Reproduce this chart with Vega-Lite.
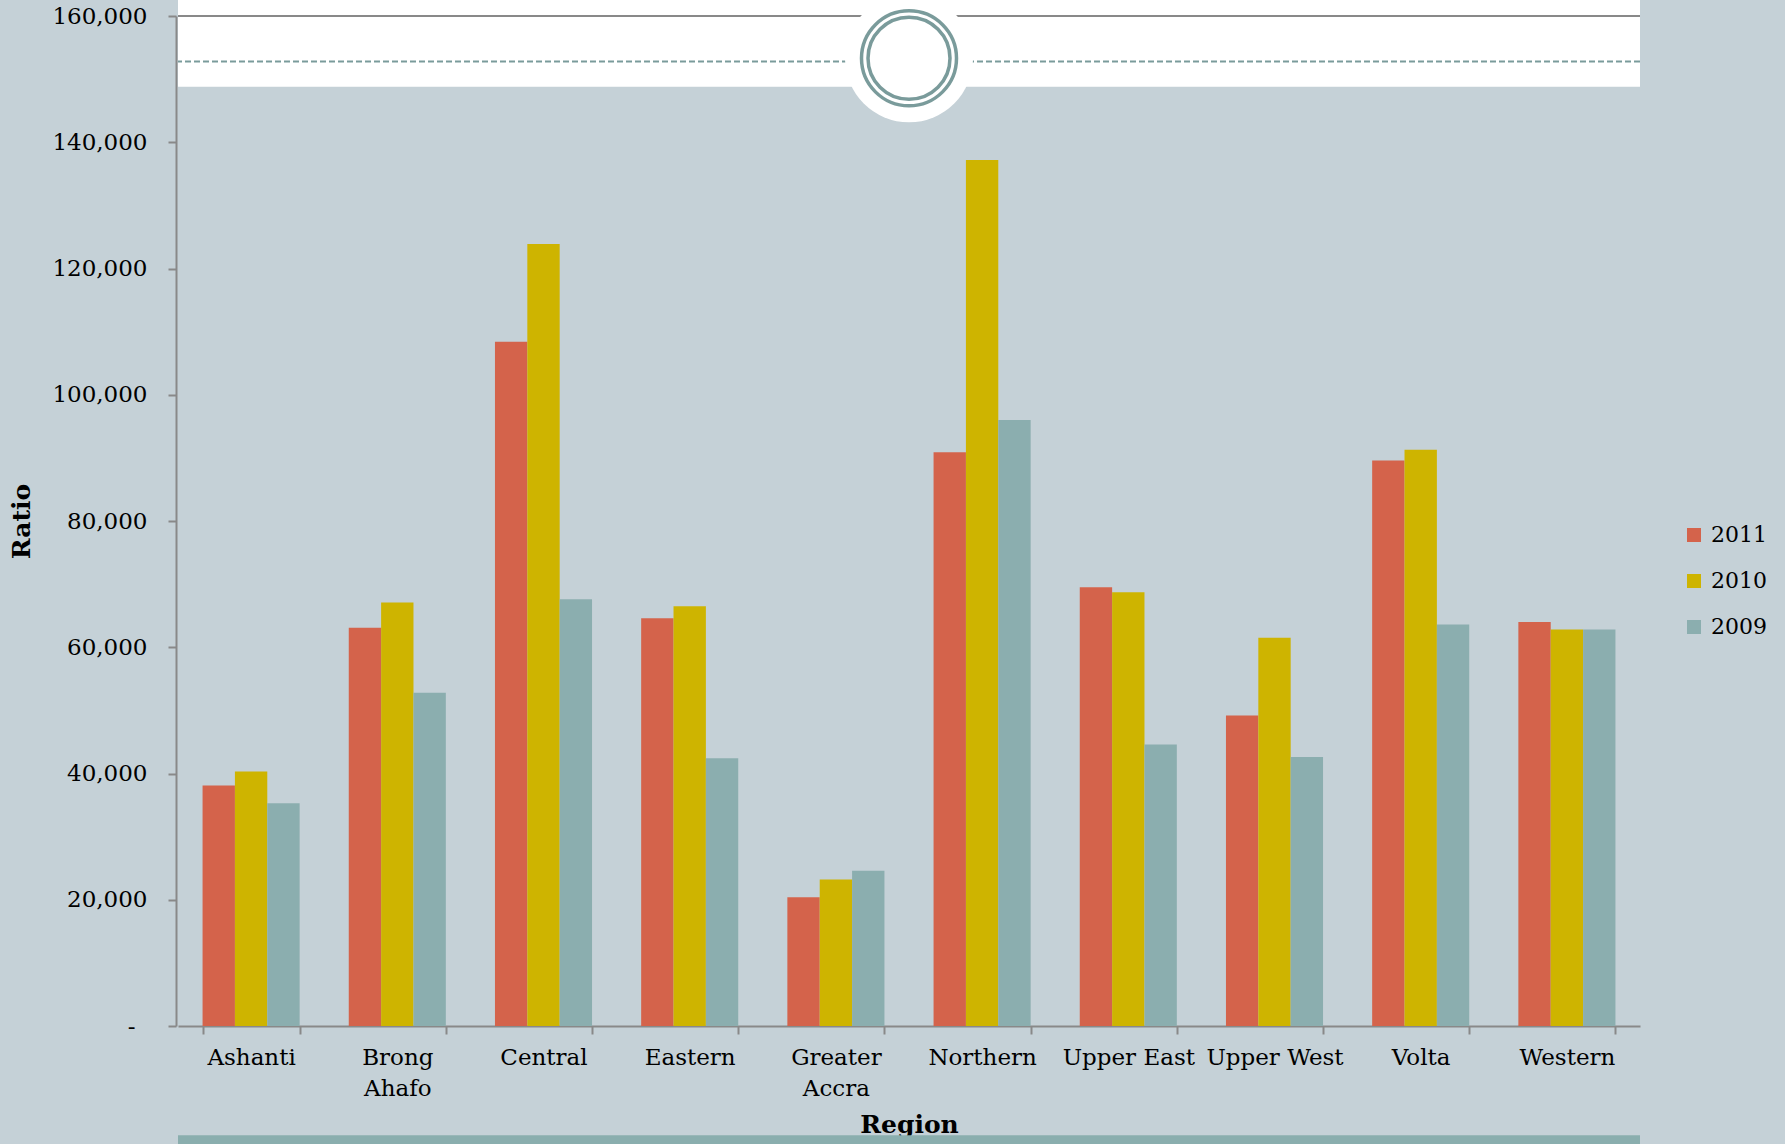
{
  "$schema": "https://vega.github.io/schema/vega-lite/v6.json",
  "width": 1462,
  "height": 1010,
  "autosize": {"type": "none"},
  "padding": {"left": 178, "top": 16, "right": 145, "bottom": 118},
  "background": "#C5D1D7",
  "config": {
    "view": {"stroke": null},
    "font": "DejaVu Serif",
    "axis": {
      "labelColor": "#000000",
      "titleColor": "#000000",
      "labelFont": "DejaVu Serif",
      "titleFont": "DejaVu Serif",
      "labelFontSize": 23,
      "titleFontSize": 25,
      "titleFontWeight": "bold",
      "domainColor": "#898989",
      "domainWidth": 2,
      "tickColor": "#898989",
      "tickWidth": 2,
      "tickSize": 8,
      "gridColor": "#898989",
      "gridWidth": 2
    },
    "legend": {
      "labelFont": "DejaVu Serif",
      "labelFontSize": 22,
      "labelColor": "#000000"
    }
  },
  "datasets": {
    "ratio": [
      {"Region": "Ashanti", "Year": "2011", "Ratio": 38100},
      {"Region": "Ashanti", "Year": "2010", "Ratio": 40300},
      {"Region": "Ashanti", "Year": "2009", "Ratio": 35300},
      {"Region": "Brong Ahafo", "Year": "2011", "Ratio": 63100},
      {"Region": "Brong Ahafo", "Year": "2010", "Ratio": 67100},
      {"Region": "Brong Ahafo", "Year": "2009", "Ratio": 52800},
      {"Region": "Central", "Year": "2011", "Ratio": 108400},
      {"Region": "Central", "Year": "2010", "Ratio": 123900},
      {"Region": "Central", "Year": "2009", "Ratio": 67600},
      {"Region": "Eastern", "Year": "2011", "Ratio": 64600},
      {"Region": "Eastern", "Year": "2010", "Ratio": 66500},
      {"Region": "Eastern", "Year": "2009", "Ratio": 42400},
      {"Region": "Greater Accra", "Year": "2011", "Ratio": 20400},
      {"Region": "Greater Accra", "Year": "2010", "Ratio": 23200},
      {"Region": "Greater Accra", "Year": "2009", "Ratio": 24600},
      {"Region": "Northern", "Year": "2011", "Ratio": 90900},
      {"Region": "Northern", "Year": "2010", "Ratio": 137200},
      {"Region": "Northern", "Year": "2009", "Ratio": 96000},
      {"Region": "Upper East", "Year": "2011", "Ratio": 69500},
      {"Region": "Upper East", "Year": "2010", "Ratio": 68700},
      {"Region": "Upper East", "Year": "2009", "Ratio": 44600},
      {"Region": "Upper West", "Year": "2011", "Ratio": 49200},
      {"Region": "Upper West", "Year": "2010", "Ratio": 61500},
      {"Region": "Upper West", "Year": "2009", "Ratio": 42600},
      {"Region": "Volta", "Year": "2011", "Ratio": 89600},
      {"Region": "Volta", "Year": "2010", "Ratio": 91300},
      {"Region": "Volta", "Year": "2009", "Ratio": 63600},
      {"Region": "Western", "Year": "2011", "Ratio": 64000},
      {"Region": "Western", "Year": "2010", "Ratio": 62800},
      {"Region": "Western", "Year": "2009", "Ratio": 62800}
    ]
  },
  "layer": [
    {
      "data": {"values": [{}]},
      "mark": {"type": "rect", "color": "#FFFFFF", "clip": false},
      "encoding": {
        "y": {"datum": 148800, "type": "quantitative"},
        "y2": {"datum": 162600}
      }
    },
    {
      "data": {"values": [{}]},
      "mark": {"type": "rule", "color": "#898989", "strokeWidth": 2, "clip": false},
      "encoding": {
        "y": {"datum": 160000, "type": "quantitative"}
      }
    },
    {
      "data": {"values": [{}]},
      "mark": {"type": "rect", "color": "#8AAEAE", "clip": false},
      "encoding": {
        "y": {"datum": -17300, "type": "quantitative"},
        "y2": {"datum": -18800}
      }
    },
    {
      "data": {"values": [{}]},
      "mark": {"type": "rule", "color": "#7A9B9B", "strokeWidth": 2, "strokeDash": [6, 3], "clip": false},
      "encoding": {
        "y": {"datum": 152780, "type": "quantitative"}
      }
    },
    {
      "data": {"name": "ratio"},
      "mark": {"type": "bar"},
      "encoding": {
        "x": {
          "field": "Region",
          "type": "nominal",
          "sort": null,
          "scale": {"paddingInner": 0.336, "paddingOuter": 0.168},
          "axis": {
            "title": "Region",
            "labelAngle": 0,
            "tickBand": "extent",
            "labelPadding": 12,
            "labelBaseline": "top",
            "labelLineHeight": 31,
            "labelExpr": "datum.label == 'Brong Ahafo' ? ['Brong', 'Ahafo'] : datum.label == 'Greater Accra' ? ['Greater', 'Accra'] : datum.label",
            "titlePadding": 12
          }
        },
        "xOffset": {
          "field": "Year",
          "type": "nominal",
          "sort": ["2011", "2010", "2009"],
          "scale": {"paddingInner": 0, "paddingOuter": 0}
        },
        "y": {
          "field": "Ratio",
          "type": "quantitative",
          "scale": {"domain": [0, 160000], "nice": false},
          "axis": {
            "title": "Ratio",
            "offset": 2,
            "values": [0, 20000, 40000, 60000, 80000, 100000, 120000, 140000, 160000],
            "labelPadding": {"condition": {"test": "datum.value === 0", "value": 33}, "value": 21},
            "labelExpr": "datum.value === 0 ? '-' : format(datum.value, ',')",
            "titlePadding": 17
          }
        },
        "color": {
          "field": "Year",
          "type": "nominal",
          "sort": ["2011", "2010", "2009"],
          "scale": {"range": ["#D4634B", "#CEB400", "#8BAEAF"]},
          "legend": {
            "title": null,
            "orient": "none",
            "legendX": 1505,
            "legendY": 508,
            "symbolType": "square",
            "symbolSize": 196,
            "symbolStrokeWidth": 0,
            "labelOffset": 6,
            "rowPadding": 24,
            "padding": 0
          }
        }
      }
    },
    {
      "data": {"values": [{}]},
      "mark": {"type": "point", "shape": "circle", "filled": true, "color": "#FFFFFF", "size": 16384, "opacity": 1, "clip": false},
      "encoding": {
        "y": {"datum": 153300, "type": "quantitative"}
      }
    },
    {
      "data": {"values": [{}]},
      "mark": {"type": "point", "shape": "circle", "filled": false, "color": "#7A9B9B", "strokeWidth": 3.5, "size": 9025, "opacity": 1, "clip": false},
      "encoding": {
        "y": {"datum": 153300, "type": "quantitative"}
      }
    },
    {
      "data": {"values": [{}]},
      "mark": {"type": "point", "shape": "circle", "filled": false, "color": "#7A9B9B", "strokeWidth": 3.5, "size": 6724, "opacity": 1, "clip": false},
      "encoding": {
        "y": {"datum": 153300, "type": "quantitative"}
      }
    }
  ]
}
